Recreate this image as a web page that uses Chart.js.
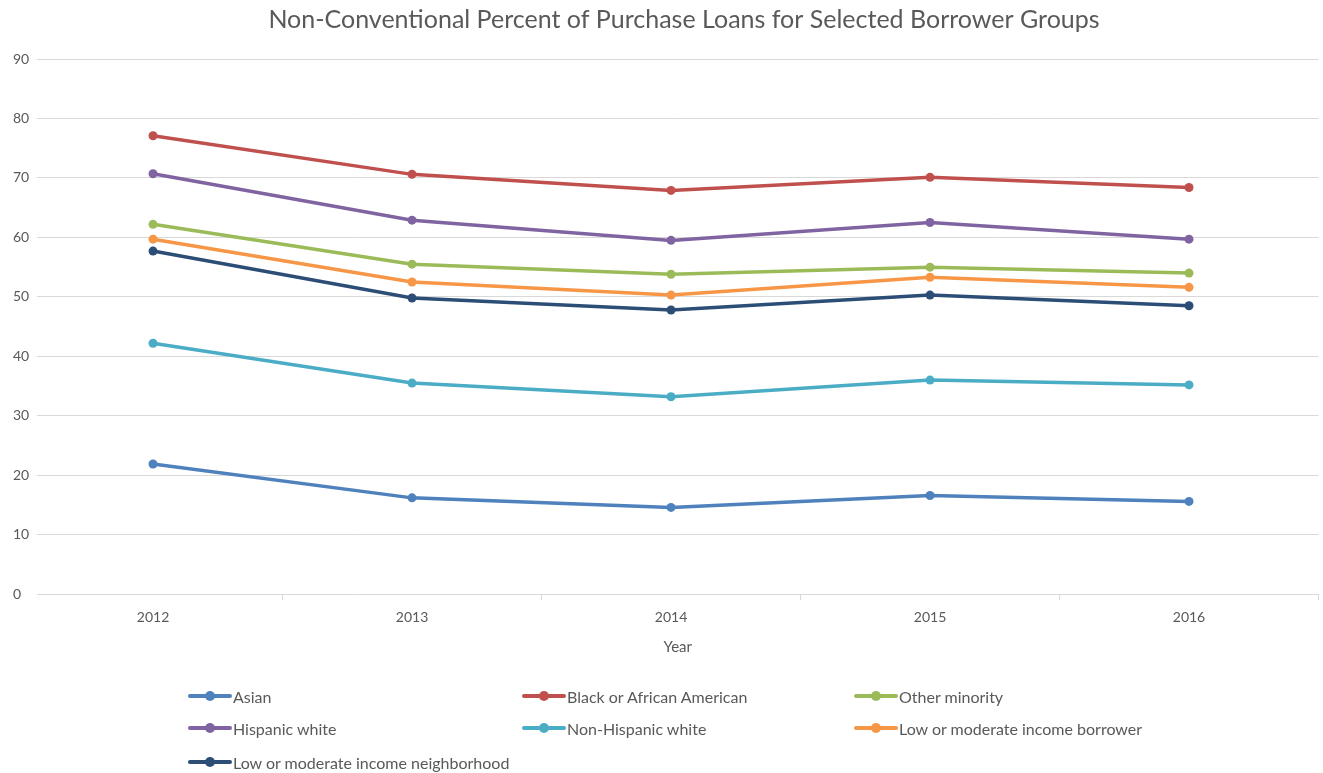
<!DOCTYPE html>
<html>
<head>
<meta charset="utf-8">
<script src="https://cdn.jsdelivr.net/npm/chart.js@4/dist/chart.umd.min.js"></script>
<style>
  html, body { margin: 0; padding: 0; background: #fff; overflow: hidden; }
  #wrap { position: relative; width: 1323px; height: 773px; }
  #chartBox { position: absolute; left: 0; top: 0; width: 1323px; height: 660px; }
  #legend { position: absolute; left: 0; top: 0; width: 1323px; height: 773px; pointer-events: none; }
  .lg-item { position: absolute; display: flex; align-items: center; font-family: Lato, "Open Sans", sans-serif; font-size: 16px; color: #595959; white-space: nowrap; }
  .lg-line { position: relative; width: 44px; height: 4px; border-radius: 2px; margin-right: 1px; }
  .lg-dot { position: absolute; left: 17px; top: -3px; width: 10px; height: 10px; border-radius: 50%; }
</style>
</head>
<body>
<div id="wrap">
  <div id="chartBox"><canvas id="c"></canvas></div>
  <div id="legend"></div>
</div>
<script>
const years = [2012, 2013, 2014, 2015, 2016];
const seriesNames = [
  "Asian",
  "Black or African American",
  "Other minority",
  "Hispanic white",
  "Non-Hispanic white",
  "Low or moderate income borrower",
  "Low or moderate income neighborhood"
];
const asian = [21.9, 16.2, 14.6, 16.6, 15.6];
const blackAfricanAmerican = [77.1, 70.6, 67.9, 70.1, 68.4];
const otherMinority = [62.2, 55.5, 53.8, 55.0, 54.0];
const hispanicWhite = [70.7, 62.9, 59.5, 62.5, 59.7];
const nonHispanicWhite = [42.2, 35.5, 33.2, 36.0, 35.2];
const lmiBorrower = [59.7, 52.5, 50.3, 53.3, 51.6];
const lmiNeighborhood = [57.7, 49.8, 47.8, 50.3, 48.5];
const yTicks = [0, 10, 20, 30, 40, 50, 60, 70, 80, 90];

const seriesValues = [asian, blackAfricanAmerican, otherMinority, hispanicWhite, nonHispanicWhite, lmiBorrower, lmiNeighborhood];
const colors = ["#4F81BD", "#C0504D", "#9BBB59", "#8064A2", "#4BACC6", "#F79646", "#2C4D75"];

const datasets = seriesNames.map((name, i) => ({
  label: name,
  data: years.map((yr, j) => ({ x: yr, y: seriesValues[i][j] })),
  borderColor: colors[i],
  backgroundColor: colors[i],
  borderWidth: 3.5,
  pointRadius: 4.5,
  pointHoverRadius: 4.5,
  pointBorderWidth: 0,
  tension: 0,
  fill: false
}));

const textColor = "#595959";
const gridColor = "#d9d9d9";
const firstYear = years[0];
const lastYear = years[years.length - 1];

const shiftTitle = {
  id: "shiftTitle",
  afterLayout(chart) {
    const t = chart.titleBlock;
    if (t) { t.left += 36; }
  }
};

const chart = new Chart(document.getElementById("c"), {
  type: "line",
  data: { datasets },
  plugins: [shiftTitle],
  options: {
    responsive: true,
    maintainAspectRatio: false,
    animation: false,
    layout: { padding: { left: 13, right: 4, top: 0, bottom: 4 } },
    plugins: {
      legend: { display: false },
      tooltip: { enabled: false },
      title: {
        display: true,
        text: "Non-Conventional Percent of Purchase Loans for Selected Borrower Groups",
        color: textColor,
        font: { family: "Lato", size: 25, weight: "normal" },
        padding: { top: 5, bottom: 24 }
      }
    },
    scales: {
      x: {
        type: "linear",
        min: firstYear - 0.448,
        max: lastYear + 0.5,
        afterBuildTicks: (scale) => {
          const t = [];
          years.forEach(y => { t.push({ value: y }); t.push({ value: y + 0.5 }); });
          scale.ticks = t;
        },
        afterFit: (scale) => { scale.paddingLeft = 0; scale.paddingRight = 0; },
        ticks: {
          color: textColor,
          font: { family: "Lato", size: 14 },
          padding: 9,
          maxRotation: 0,
          autoSkip: false,
          callback: (v) => Number.isInteger(v) ? String(v) : ""
        },
        grid: {
          drawOnChartArea: false,
          drawTicks: true,
          tickLength: 6,
          tickColor: (ctx) => (ctx.tick && !Number.isInteger(ctx.tick.value)) ? gridColor : "rgba(0,0,0,0)"
        },
        border: { display: true, color: gridColor, width: 1 },
        title: {
          display: true,
          text: "Year",
          color: textColor,
          font: { family: "Lato", size: 15 },
          padding: { top: 3, bottom: 0 }
        }
      },
      y: {
        min: 0,
        max: 90,
        afterBuildTicks: (scale) => { scale.ticks = yTicks.map(v => ({ value: v })); },
        afterFit: (scale) => { scale.width = 24; },
        ticks: {
          color: textColor,
          font: { family: "Lato", size: 14 },
          crossAlign: "far",
          padding: 0
        },
        grid: { color: gridColor, lineWidth: 1, drawTicks: false },
        border: { display: false }
      }
    }
  }
});

// HTML legend built from chart datasets
const legendEl = document.getElementById("legend");
const colX = [188, 522, 854];
const rowY = [697, 729, 763];
chart.data.datasets.forEach((ds, i) => {
  const item = document.createElement("div");
  item.className = "lg-item";
  const col = i % 3, row = Math.floor(i / 3);
  item.style.left = colX[col] + "px";
  item.style.top = (rowY[row] - 11) + "px";
  item.style.height = "20px";
  const line = document.createElement("span");
  line.className = "lg-line";
  line.style.background = ds.borderColor;
  const dot = document.createElement("span");
  dot.className = "lg-dot";
  dot.style.background = ds.borderColor;
  line.appendChild(dot);
  const txt = document.createElement("span");
  txt.textContent = ds.label;
  item.appendChild(line);
  item.appendChild(txt);
  legendEl.appendChild(item);
});
</script>
</body>
</html>
